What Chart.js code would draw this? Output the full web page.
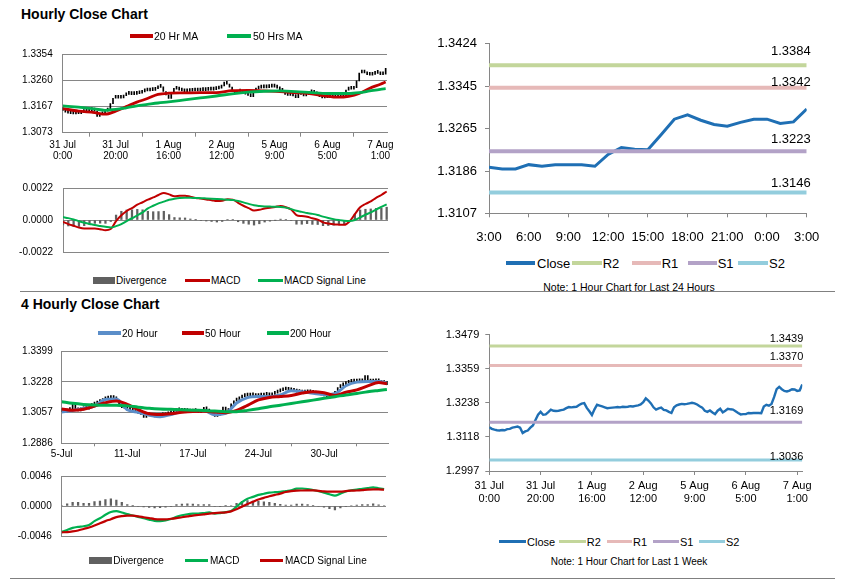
<!DOCTYPE html>
<html>
<head>
<meta charset="utf-8">
<title>Hourly and 4 Hourly Close Charts</title>
<script src="https://cdn.jsdelivr.net/npm/chart.js@4.4.1/dist/chart.umd.min.js"></script>
<style>
  body { margin: 0; background: #fff; }
  #page { position: relative; width: 847px; height: 583px; overflow: hidden; font-family: "Liberation Sans", Arial, sans-serif; color: #000; }
  canvas { position: absolute; }
  .t { position: absolute; white-space: nowrap; line-height: 1; transform: translateY(-50%); }
  .k { position: absolute; }
  .rule { position: absolute; height: 1px; background: #808080; }
</style>
</head>
<body>
<div id="page">
  <canvas id="hourPrice" width="400" height="126" style="left:0px;top:38px"></canvas>
  <canvas id="hourMacd" width="400" height="96" style="left:0px;top:172px"></canvas>
  <canvas id="dayChart" width="420" height="226" style="left:420px;top:28px"></canvas>
  <canvas id="h4Price" width="400" height="126" style="left:0px;top:336px"></canvas>
  <canvas id="h4MacdChart" width="400" height="92" style="left:0px;top:460px"></canvas>
  <canvas id="weekChart" width="420" height="186" style="left:420px;top:322px"></canvas>
  <div class="rule" style="left:20px;top:291px;width:815px"></div>
  <div class="rule" style="left:10px;top:578px;width:825px"></div>
</div>
<script>
// ---------- hourly data: 31 Jul 0:00 .. 7 Aug 3:00, one value per hour ----------
const weekTicks = [0, 20, 40, 60, 80, 100, 120];
const weekTickLabels = [['31 Jul', '0:00'], ['31 Jul', '20:00'], ['1 Aug', '16:00'], ['2 Aug', '12:00'],
                        ['5 Aug', '9:00'], ['6 Aug', '5:00'], ['7 Aug', '1:00']];
const weekClose = [
  1.3152, 1.3146, 1.3143, 1.3141, 1.3140, 1.3142, 1.3141, 1.3145, 1.3146, 1.3150,
  1.3152, 1.3154, 1.3150, 1.3131, 1.3137, 1.3140, 1.3150, 1.3158, 1.3177, 1.3196,
  1.3206, 1.3196, 1.3197, 1.3205, 1.3214, 1.3210, 1.3209, 1.3210, 1.3212, 1.3214,
  1.3219, 1.3223, 1.3222, 1.3223, 1.3224, 1.3230, 1.3235, 1.3237, 1.3220, 1.3208,
  1.3195, 1.3215, 1.3231, 1.3228, 1.3225, 1.3222, 1.3219, 1.3220, 1.3221, 1.3222,
  1.3223, 1.3222, 1.3224, 1.3223, 1.3224, 1.3226, 1.3225, 1.3227, 1.3229, 1.3232,
  1.3240, 1.3254, 1.3246, 1.3236, 1.3222, 1.3214, 1.3218, 1.3221, 1.3213, 1.3211,
  1.3206, 1.3202, 1.3222, 1.3229, 1.3232, 1.3234, 1.3233, 1.3234, 1.3236, 1.3238,
  1.3236, 1.3232, 1.3226, 1.3221, 1.3210, 1.3206, 1.3211, 1.3204, 1.3198, 1.3210,
  1.3217, 1.3204, 1.3210, 1.3217, 1.3215, 1.3214, 1.3208, 1.3202, 1.3197, 1.3198,
  1.3198, 1.3202, 1.3201, 1.3202, 1.3202, 1.3202, 1.3201, 1.3225, 1.3231, 1.3228,
  1.3234, 1.3258, 1.3286, 1.3294, 1.3286, 1.3280, 1.3278, 1.3281, 1.3286, 1.3285,
  1.3280, 1.3282, 1.3303
];
const maHours = [0, 6, 12, 16, 20, 24, 28, 32, 36, 40, 46, 52, 58, 64, 70, 76, 82, 88, 94, 100, 104, 108, 112, 116, 120, 122];
const ma20 = [1.3159, 1.3150, 1.3145, 1.3139, 1.3150, 1.3166, 1.3182, 1.3195, 1.3210, 1.3214, 1.3215, 1.3216, 1.3216,
              1.3223, 1.3224, 1.3222, 1.3220, 1.3216, 1.3212, 1.3203, 1.3200, 1.3203, 1.3213, 1.3232, 1.3246, 1.3254];
const ma50 = [1.3169, 1.3164, 1.3158, 1.3153, 1.3156, 1.3162, 1.3169, 1.3174, 1.3179, 1.3183, 1.3190, 1.3197, 1.3204,
              1.3212, 1.3218, 1.3221, 1.3222, 1.3220, 1.3216, 1.3213, 1.3213, 1.3213, 1.3216, 1.3222, 1.3228, 1.3230];
// MACD, every second hour
const macdHour = [
  -0.00013, -0.00028, -0.00040, -0.00052, -0.00058, -0.00058, -0.00058, -0.00063, -0.00070, -0.00062,
  -0.00008, 0.00032, 0.00062, 0.00082, 0.00105, 0.00122, 0.00140, 0.00155, 0.00172, 0.00186,
  0.00176, 0.00163, 0.00166, 0.00167, 0.00160, 0.00152, 0.00147, 0.00141, 0.00136, 0.00130,
  0.00132, 0.00143, 0.00140, 0.00118, 0.00098, 0.00082, 0.00066, 0.00070, 0.00079, 0.00084,
  0.00090, 0.00096, 0.00088, 0.00072, 0.00034, 0.00027, 0.00023, 0.00012, 0.00003, -0.00016,
  -0.00024, -0.00030, -0.00032, -0.00033, -0.00010, 0.00040, 0.00087, 0.00110, 0.00128, 0.00152,
  0.00172, 0.00196
];
const signalHour = [
  0.00020, 0.00013, 0.00004, -0.00008, -0.00019, -0.00027, -0.00035, -0.00041, -0.00047, -0.00052,
  -0.00042, -0.00028, -0.00007, 0.00012, 0.00032, 0.00052, 0.00080, 0.00098, 0.00114, 0.00126,
  0.00139, 0.00146, 0.00151, 0.00153, 0.00153, 0.00151, 0.00150, 0.00148, 0.00146, 0.00144,
  0.00142, 0.00140, 0.00137, 0.00130, 0.00121, 0.00111, 0.00101, 0.00096, 0.00093, 0.00092,
  0.00091, 0.00090, 0.00085, 0.00075, 0.00063, 0.00056, 0.00048, 0.00042, 0.00034, 0.00023,
  0.00014, 0.00006, 0.00000, -0.00005, -0.00007, 0.00000, 0.00018, 0.00036, 0.00052, 0.00072,
  0.00090, 0.00108
];
const hourPriceTicks = [1.3073, 1.3167, 1.3260, 1.3354];
const hourMacdTicks = [-0.0022, 0, 0.0022];

// ---------- last 24 hours ----------
const dayHourTicks = [0, 3, 6, 9, 12, 15, 18, 21, 24];
const dayTickLabels = ['3:00', '6:00', '9:00', '12:00', '15:00', '18:00', '21:00', '0:00', '3:00'];
const dayClose = [1.3193, 1.3190, 1.3190, 1.3198, 1.3195, 1.3198, 1.3198, 1.3198, 1.3195, 1.3217,
                  1.3230, 1.3227, 1.3226, 1.3254, 1.3283, 1.3291, 1.3281, 1.3273, 1.3270, 1.3277,
                  1.3283, 1.3283, 1.3275, 1.3278, 1.3302];
const dayLevels = [1.3384, 1.3342, 1.3223, 1.3146];   // R2, R1, S1, S2
const dayTicks = [1.3107, 1.3186, 1.3265, 1.3345, 1.3424];
const weekLevels = [1.3439, 1.3370, 1.3169, 1.3036];  // R2, R1, S1, S2
const weekPriceTicks = [1.2997, 1.3118, 1.3238, 1.3359, 1.3479];

// ---------- 4 hourly data ----------
const h4Ticks = [0, 24, 48, 72, 96];
const h4TickLabels = ['5-Jul', '11-Jul', '17-Jul', '24-Jul', '30-Jul'];
const h4Close = [
  1.3062, 1.3060, 1.3068, 1.3075, 1.3105, 1.3070, 1.3066, 1.3072, 1.3080, 1.3076,
  1.3090, 1.3098, 1.3104, 1.3112, 1.3118, 1.3128, 1.3132, 1.3138, 1.3135, 1.3140,
  1.3128, 1.3096, 1.3084, 1.3078, 1.3070, 1.3074, 1.3066, 1.3058, 1.3052, 1.3046,
  1.3030, 1.3038, 1.3040, 1.3034, 1.3032, 1.3036, 1.3040, 1.3038, 1.3044, 1.3050,
  1.3058, 1.3062, 1.3066, 1.3071, 1.3064, 1.3068, 1.3062, 1.3060, 1.3066, 1.3062,
  1.3058, 1.3064, 1.3086, 1.3072, 1.3060, 1.3045, 1.3035, 1.3042, 1.3052, 1.3088,
  1.3062, 1.3075, 1.3105, 1.3120, 1.3128, 1.3138, 1.3145, 1.3150, 1.3148, 1.3152,
  1.3150, 1.3146, 1.3150, 1.3148, 1.3152, 1.3155, 1.3150, 1.3158, 1.3165, 1.3172,
  1.3178, 1.3182, 1.3185, 1.3180, 1.3178, 1.3175, 1.3170, 1.3168, 1.3165, 1.3168,
  1.3166, 1.3170, 1.3164, 1.3160, 1.3158, 1.3155, 1.3150, 1.3135, 1.3140, 1.3152,
  1.3175, 1.3195, 1.3205, 1.3212, 1.3220, 1.3225, 1.3228, 1.3226, 1.3232, 1.3228,
  1.3230, 1.3262, 1.3232, 1.3226, 1.3235, 1.3228, 1.3230, 1.3218, 1.3225, 1.3212
];
const h4MaIdx = [0, 4, 8, 12, 16, 20, 24, 28, 32, 36, 40, 44, 48, 52, 56, 60, 64, 68, 72, 76, 80, 84, 88, 92, 96, 100, 104, 108, 112, 116, 119];
const h4Ma20 = [1.3060, 1.3068, 1.3080, 1.3092, 1.3130, 1.3132, 1.3072, 1.3058, 1.3043, 1.3034, 1.3046, 1.3064, 1.3068, 1.3068, 1.3045, 1.3052,
                1.3110, 1.3140, 1.3146, 1.3145, 1.3155, 1.3178, 1.3172, 1.3164, 1.3157, 1.3162, 1.3206, 1.3226, 1.3229, 1.3229, 1.3220];
const h4Ma50 = [1.3077, 1.3069, 1.3075, 1.3093, 1.3111, 1.3121, 1.3102, 1.3073, 1.3050, 1.3046, 1.3050, 1.3058, 1.3063, 1.3064, 1.3060, 1.3056,
                1.3069, 1.3097, 1.3127, 1.3141, 1.3146, 1.3152, 1.3165, 1.3173, 1.3167, 1.3152, 1.3170, 1.3183, 1.3205, 1.3224, 1.3217];
const h4Ma200 = [1.3117, 1.3108, 1.3102, 1.3099, 1.3098, 1.3098, 1.3094, 1.3087, 1.3081, 1.3077, 1.3075, 1.3073, 1.3070, 1.3068, 1.3065, 1.3062,
                 1.3062, 1.3069, 1.3078, 1.3089, 1.3098, 1.3107, 1.3117, 1.3126, 1.3136, 1.3145, 1.3155, 1.3163, 1.3173, 1.3180, 1.3185];
// MACD, every second 4h bar
const h4Macd = [
  -0.00395, -0.00368, -0.00335, -0.00320, -0.00310, -0.00290, -0.00232, -0.00188, -0.00135, -0.00092,
  -0.00080, -0.00100, -0.00125, -0.00145, -0.00166, -0.00186, -0.00208, -0.00228, -0.00232, -0.00222,
  -0.00200, -0.00165, -0.00142, -0.00126, -0.00118, -0.00116, -0.00108, -0.00098, -0.00118, -0.00108,
  -0.00093, -0.00075, -0.00010, 0.00060, 0.00112, 0.00140, 0.00170, 0.00188, 0.00205, 0.00212,
  0.00216, 0.00230, 0.00242, 0.00266, 0.00268, 0.00261, 0.00245, 0.00226, 0.00205, 0.00180,
  0.00160, 0.00190, 0.00222, 0.00242, 0.00252, 0.00264, 0.00275, 0.00286, 0.00272, 0.00258
];
const h4Signal = [
  -0.00403, -0.00400, -0.00390, -0.00375, -0.00352, -0.00330, -0.00300, -0.00265, -0.00232, -0.00202,
  -0.00170, -0.00155, -0.00148, -0.00148, -0.00158, -0.00172, -0.00186, -0.00200, -0.00205, -0.00205,
  -0.00196, -0.00185, -0.00172, -0.00160, -0.00148, -0.00138, -0.00128, -0.00118, -0.00110, -0.00103,
  -0.00097, -0.00082, -0.00050, -0.00010, 0.00030, 0.00065, 0.00100, 0.00125, 0.00150, 0.00170,
  0.00190, 0.00215, 0.00228, 0.00235, 0.00238, 0.00240, 0.00241, 0.00233, 0.00224, 0.00220,
  0.00220, 0.00221, 0.00228, 0.00235, 0.00238, 0.00244, 0.00252, 0.00254, 0.00254, 0.00250
];
const h4PriceTicks = [1.2886, 1.3057, 1.3228, 1.3399];
const h4MacdTicks = [-0.0046, 0, 0.0046];

// ---------- styles ----------
const SANS = '"Liberation Sans", Arial, sans-serif';
const GRID = '#868686';
const RED = '#c00000', GREEN = '#00b050', BLUE20 = '#5b8ec9', CLOSE = '#1f6fb4', BARS = '#606060';
const levelColors = ['#c3d69b', '#e6b9b8', '#b3a2c7', '#93cddd'];

Chart.defaults.animation = false;
Chart.defaults.events = [];
Chart.defaults.font.family = SANS;
Chart.defaults.color = '#000';
Chart.defaults.plugins.legend.display = false;
Chart.defaults.plugins.tooltip.enabled = false;

// writes the R/S level values just above their lines
const levelLabels = {
  id: 'levelLabels',
  afterDatasetsDraw(chart, args, opts) {
    const { ctx, chartArea, scales } = chart;
    ctx.save();
    ctx.font = opts.font;
    ctx.fillStyle = '#000';
    ctx.textAlign = 'right';
    ctx.textBaseline = 'middle';
    opts.values.forEach((v, i) => {
      ctx.fillText(v.toFixed(4), chartArea.right + opts.dx, scales.y.getPixelForValue(v) - opts.lift[i]);
    });
    ctx.restore();
  }
};

function axisX(f, o) {
  return {
    type: 'linear', min: 0, max: o.max, offset: false,
    afterBuildTicks: s => { s.ticks = o.ticks.map(v => ({ value: v })); },
    afterFit: s => { s.height = f.xh; },
    ticks: {
      display: !!o.labels, autoSkip: false, maxRotation: 0, minRotation: 0,
      callback: (v, i) => o.labels ? o.labels[i] : '',
      font: o.font, padding: o.pad || 0
    },
    grid: { display: o.tick > 0, drawOnChartArea: false, drawTicks: o.tick > 0, tickLength: o.tick, color: GRID },
    border: { color: GRID }
  };
}

function axisY(f, o) {
  return {
    type: 'linear', min: o.ticks[0], max: o.ticks[o.ticks.length - 1],
    afterBuildTicks: s => { s.ticks = o.ticks.map(v => ({ value: v })); },
    afterFit: s => { s.width = f.yw; },
    ticks: { callback: v => v.toFixed(4), font: o.font, padding: o.pad },
    grid: { color: GRID, drawOnChartArea: o.grid, drawTicks: o.tick > 0, tickLength: o.tick },
    border: { color: GRID }
  };
}

// area = [left, top, right, bottom] of the plot in page pixels
function makeChart(id, area, datasets, x, y, labels) {
  const cv = document.getElementById(id);
  const left = parseFloat(cv.style.left), top = parseFloat(cv.style.top);
  const f = { yw: area[0] - left, xh: top + cv.height - area[3] };
  return new Chart(cv, {
    type: 'line',
    data: { datasets },
    options: {
      responsive: false,
      layout: { padding: { left: 0, top: area[1] - top, right: left + cv.width - area[2], bottom: 0 } },
      scales: { x: axisX(f, x), y: axisY(f, y) },
      plugins: { levelLabels: labels || {} }
    },
    plugins: labels ? [levelLabels] : []
  });
}

function line(points, color, width, order, smooth) {
  return {
    type: 'line', data: points, borderColor: color, borderWidth: width, pointRadius: 0,
    fill: false, order, cubicInterpolationMode: smooth ? 'monotone' : 'default', tension: 0
  };
}

function rangeBars(closes) {
  return {
    type: 'bar', order: 9, backgroundColor: '#000', barThickness: 1, minBarLength: 3, grouped: false,
    data: closes.map((c, i) => ({ x: i, y: [i ? closes[i - 1] : c, c] }))
  };
}

function divergence(macd, signal, step) {
  return {
    type: 'bar', order: 9, backgroundColor: BARS, barThickness: 1.6, grouped: false,
    data: macd.map((m, i) => ({ x: i * step, y: m - signal[i] }))
  };
}

const pts = (idx, vals) => vals.map((v, i) => ({ x: idx[i], y: v }));
const seq = (vals, step) => vals.map((v, i) => ({ x: i * step, y: v }));
const flat = (v, max) => [{ x: 0, y: v }, { x: max, y: v }];

const leftTick = { size: 10 };

// hourly close with moving averages
makeChart('hourPrice', [62.7, 46.7, 387, 132.7], [
  rangeBars(weekClose),
  line(pts(maHours, ma20), RED, 2.8, 2, true),
  line(pts(maHours, ma50), GREEN, 2.8, 1, true)
], { max: 122.5, ticks: weekTicks, labels: weekTickLabels, font: { size: 10, lineHeight: 1.1 }, tick: 4, pad: 3 },
   { ticks: hourPriceTicks, font: leftTick, pad: 10, tick: 0, grid: true });

// hourly MACD
makeChart('hourMacd', [63, 180.7, 388, 263.5], [
  divergence(macdHour, signalHour, 2),
  line(seq(macdHour, 2), RED, 2, 2, true),
  line(seq(signalHour, 2), GREEN, 2, 1, true)
], { max: 122.5, ticks: weekTicks, labels: null, tick: 0 },
   { ticks: hourMacdTicks, font: leftTick, pad: 10, tick: 0, grid: true });

// last 24 hours with pivot levels
makeChart('dayChart', [489, 38.3, 806.7, 213.3], [
  line(seq(dayClose, 1), CLOSE, 3, 5, false),
  ...dayLevels.map((v, i) => line(flat(v, 24), levelColors[i], 4, 1 + i, false))
], { max: 24, ticks: dayHourTicks, labels: dayTickLabels, font: { size: 13 }, tick: 4, pad: 12 },
   { ticks: dayTicks, font: { size: 13 }, pad: 8, tick: 4, grid: false },
   { values: dayLevels, lift: [14, 5, 12, 9], dx: 4, font: '13px ' + SANS });

// 4 hourly close with moving averages
makeChart('h4Price', [61.7, 345, 388, 443.3], [
  rangeBars(h4Close),
  line(pts(h4MaIdx, h4Ma20), BLUE20, 3, 3, true),
  line(pts(h4MaIdx, h4Ma50), RED, 3, 2, true),
  line(pts(h4MaIdx, h4Ma200), GREEN, 3, 1, true)
], { max: 119.4, ticks: h4Ticks, labels: h4TickLabels, font: { size: 10 }, tick: 3, pad: 2 },
   { ticks: h4PriceTicks, font: leftTick, pad: 9, tick: 0, grid: true });

// 4 hourly MACD
makeChart('h4MacdChart', [61.7, 468.3, 386, 546], [
  divergence(h4Macd, h4Signal, 2),
  line(seq(h4Macd, 2), GREEN, 2.2, 2, true),
  line(seq(h4Signal, 2), RED, 2.2, 1, true)
], { max: 118.7, ticks: h4Ticks, labels: null, tick: 0 },
   { ticks: h4MacdTicks, font: leftTick, pad: 10, tick: 0, grid: true });

// last week hourly close with pivot levels
makeChart('weekChart', [489.3, 331, 802.3, 471], [
  line(seq(weekClose, 1), CLOSE, 2.4, 5, false),
  ...weekLevels.map((v, i) => line(flat(v, 122), levelColors[i], 3, 1 + i, false))
], { max: 122, ticks: weekTicks, labels: weekTickLabels, font: { size: 11, lineHeight: 1.2 }, tick: 4, pad: 4 },
   { ticks: weekPriceTicks, font: { size: 11 }, pad: 6, tick: 4, grid: false },
   { values: weekLevels, lift: [6.6, 8.3, 11.3, 3.3], dx: 1, font: '11px ' + SANS });

// ---------- titles, legends, notes ----------
const page = document.getElementById('page');
function text(x, y, str, font, center) {
  const d = document.createElement('div');
  d.className = 't';
  d.textContent = str;
  d.style.font = font;
  d.style.left = x + 'px';
  d.style.top = y + 'px';
  if (center) d.style.transform = 'translate(-50%, -50%)';
  page.appendChild(d);
}
function key(x1, x2, y, h, color) {
  const d = document.createElement('div');
  d.className = 'k';
  d.style.left = x1 + 'px';
  d.style.width = (x2 - x1) + 'px';
  d.style.top = (y - h / 2) + 'px';
  d.style.height = h + 'px';
  d.style.background = color;
  page.appendChild(d);
}

const L10 = '10px ' + SANS;
text(21, 13.5, 'Hourly Close Chart', 'bold 14px ' + SANS);
key(130, 153, 36, 4, RED);   text(154, 36, '20 Hr MA', '10.5px ' + SANS);
key(227, 251, 36, 4, GREEN); text(253, 36, '50 Hrs MA', '10.5px ' + SANS);

key(93, 115, 280, 7, BARS);  text(116, 280, 'Divergence', L10);
key(185, 210, 280, 3, RED);  text(211, 280, 'MACD', L10);
key(258, 283, 280, 3, GREEN); text(284, 280, 'MACD Signal Line', L10);

const L13 = '13px ' + SANS;
key(506, 535, 263.3, 4, CLOSE);              text(537, 263.3, 'Close', L13);
key(571.7, 601.7, 263.3, 4, levelColors[0]); text(602.7, 263.3, 'R2', L13);
key(631.7, 660.7, 263.3, 4, levelColors[1]); text(661.7, 263.3, 'R1', L13);
key(688, 716.7, 263.3, 4, levelColors[2]);   text(717.7, 263.3, 'S1', L13);
key(738, 768, 263.3, 4, levelColors[3]);     text(769, 263.3, 'S2', L13);
text(629, 286.7, 'Note: 1 Hour Chart for Last 24 Hours', '10.5px ' + SANS, true);

text(21, 304, '4 Hourly Close Chart', 'bold 14px ' + SANS);
key(98, 120.7, 333.3, 4, BLUE20);   text(122, 333.3, '20 Hour', L10);
key(181.7, 204, 333.3, 4, RED);     text(205, 333.3, '50 Hour', L10);
key(266.7, 289.3, 333.3, 4, GREEN); text(290, 333.3, '200 Hour', L10);

key(89.3, 111.7, 560, 7, BARS);  text(113.3, 560, 'Divergence', L10);
key(185, 208.3, 560, 3, GREEN);  text(210, 560, 'MACD', L10);
key(260, 283.3, 560, 3, RED);    text(285, 560, 'MACD Signal Line', L10);

const L11 = '11px ' + SANS;
key(499.3, 526, 541.7, 3.5, CLOSE);            text(527, 541.7, 'Close', L11);
key(559.3, 585.7, 541.7, 3.5, levelColors[0]); text(586.7, 541.7, 'R2', L11);
key(606.7, 632.3, 541.7, 3.5, levelColors[1]); text(633, 541.7, 'R1', L11);
key(653, 679.3, 541.7, 3.5, levelColors[2]);   text(680, 541.7, 'S1', L11);
key(699.3, 725, 541.7, 3.5, levelColors[3]);   text(726, 541.7, 'S2', L11);
text(629, 561, 'Note: 1 Hour Chart for  Last 1 Week', '10px ' + SANS, true);
</script>
</body>
</html>
